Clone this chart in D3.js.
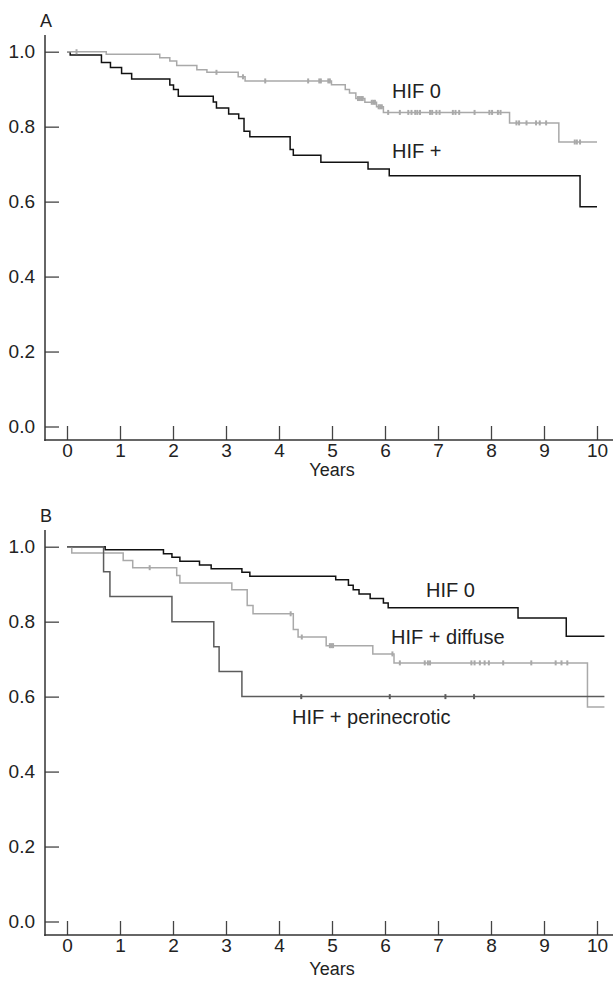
<!DOCTYPE html>
<html>
<head>
<meta charset="utf-8">
<script src="https://cdn.jsdelivr.net/npm/d3@7"></script>
<style>
  body { margin: 0; background: #fff; }
  text { font-family: "Liberation Sans", Arial, sans-serif; fill: #222; }
</style>
</head>
<body>
<div id="chart"></div>
<script>
// tick labels
var xTicks = [0, 1, 2, 3, 4, 5, 6, 7, 8, 9, 10];
var yTicks = [0, 0.2, 0.4, 0.6, 0.8, 1.0];

// panel A: HIF 0 (grey) and HIF + (black)
var aHif0Times = [0, 0.74, 1.75, 1.94, 2.07, 2.45, 2.64, 3.23, 3.36, 4.99, 5.25, 5.33, 5.45, 5.62, 5.84, 5.97, 8.35, 9.28, 10.0];
var aHif0Surv  = [1.0, 0.993, 0.984, 0.975, 0.963, 0.952, 0.945, 0.933, 0.922, 0.912, 0.899, 0.890, 0.875, 0.865, 0.853, 0.838, 0.810, 0.759, 0.759];
var aHif0Cens  = [0.18, 2.82, 3.32, 3.74, 4.55, 4.76, 4.79, 4.93, 4.96, 5.49, 5.52, 5.55, 5.58, 5.75, 5.78, 5.81,
                  5.88, 5.91, 5.94, 6.06, 6.28, 6.44, 6.50, 6.57, 6.61, 6.66, 6.85, 6.89, 6.97, 7.03, 7.28, 7.33,
                  7.40, 7.69, 7.97, 8.02, 8.13, 8.18, 8.48, 8.53, 8.67, 8.85, 8.92, 9.04, 9.58, 9.62, 9.68];
var aHifPosTimes = [0, 0.06, 0.65, 0.82, 1.03, 1.22, 1.94, 2.01, 2.10, 2.76, 2.82, 3.05, 3.24, 3.34, 3.45, 4.21, 4.27, 4.79, 5.68, 6.08, 9.68, 10.0];
var aHifPosSurv  = [1.0, 0.991, 0.971, 0.958, 0.942, 0.927, 0.911, 0.899, 0.881, 0.866, 0.850, 0.834, 0.822, 0.788, 0.773, 0.739, 0.724, 0.705, 0.687, 0.669, 0.586, 0.586];
var aHifPosCens  = [];

// panel B: HIF 0 (black), HIF + diffuse (light grey), HIF + perinecrotic (dark grey)
var bHif0Times = [0, 0.72, 1.82, 1.98, 2.13, 2.50, 2.72, 3.30, 3.45, 5.07, 5.31, 5.40, 5.51, 5.72, 5.97, 6.06, 8.51, 9.42, 10.14];
var bHif0Surv  = [1.0, 0.992, 0.981, 0.972, 0.961, 0.951, 0.941, 0.932, 0.921, 0.912, 0.897, 0.885, 0.874, 0.862, 0.850, 0.837, 0.810, 0.761, 0.761];
var bHif0Cens  = [];
var bDiffTimes = [0, 0.09, 1.06, 1.24, 2.07, 2.13, 3.11, 3.40, 3.51, 4.27, 4.36, 4.89, 5.77, 6.17, 9.82, 10.14];
var bDiffSurv  = [1.0, 0.983, 0.963, 0.944, 0.923, 0.903, 0.885, 0.843, 0.821, 0.779, 0.759, 0.736, 0.714, 0.690, 0.572, 0.572];
var bDiffCens  = [1.56, 4.22, 4.43, 4.96, 4.99, 5.02, 6.14, 6.28, 6.75, 6.81, 6.85, 7.63, 7.69, 7.79, 7.88, 7.96, 8.23, 8.76, 9.22, 9.33, 9.44];
var bPeriTimes = [0, 0.69, 0.81, 1.98, 2.77, 2.87, 3.30, 10.14];
var bPeriSurv  = [1.0, 0.933, 0.867, 0.800, 0.733, 0.667, 0.600, 0.600];
var bPeriCens  = [4.42, 6.09, 7.14, 7.68];

var width = 613, height = 985;
var font = "Liberation Sans, Arial, sans-serif";

var svg = d3.select("#chart").append("svg")
  .attr("width", width)
  .attr("height", height);

var x = d3.scaleLinear().domain([0, 10]).range([67, 597]);
var y = d3.scaleLinear().domain([0, 1]).range([426.5, 51.7]);

function stepValue(times, surv, t) {
  var i = d3.bisectRight(times, t) - 1;
  return surv[Math.max(0, i)];
}

function drawPanel(top, letter, yearsY, curves, labels) {
  var g = svg.append("g").attr("transform", "translate(0," + top + ")");

  g.append("text").attr("x", 40).attr("y", 27).style("font-size", "18px").text(letter);

  // y axis, ticks point inwards
  var yAxis = g.append("g")
    .attr("transform", "translate(45,0)")
    .call(d3.axisLeft(y).tickValues(yTicks).tickSize(-14).tickPadding(10).tickFormat(d3.format(".1f")));
  yAxis.select(".domain").remove();
  yAxis.selectAll("line").attr("stroke", "#444").attr("stroke-width", 1.3);
  yAxis.selectAll("text").style("font-size", "19px").attr("fill", "#222").style("font-family", font);

  // x axis
  var xAxis = g.append("g")
    .attr("transform", "translate(0,440)")
    .call(d3.axisBottom(x).tickValues(xTicks).tickSize(-14).tickPadding(4).tickFormat(d3.format("d")));
  xAxis.select(".domain").remove();
  xAxis.selectAll("line").attr("stroke", "#444").attr("stroke-width", 1.3);
  xAxis.selectAll("text").style("font-size", "19px").attr("fill", "#222").style("font-family", font);

  g.append("line").attr("x1", 45).attr("x2", 45).attr("y1", 35).attr("y2", 441)
    .attr("stroke", "#333").attr("stroke-width", 1.5);
  g.append("line").attr("x1", 44.3).attr("x2", width).attr("y1", 440).attr("y2", 440)
    .attr("stroke", "#333").attr("stroke-width", 1.5);

  g.append("text").attr("x", x(5)).attr("y", yearsY).attr("text-anchor", "middle")
    .style("font-size", "18px").text("Years");

  var line = d3.line()
    .x(function (d) { return x(d[0]); })
    .y(function (d) { return y(d[1]); })
    .curve(d3.curveStepAfter);

  curves.forEach(function (c) {
    var pts = c.times.map(function (t, i) { return [t, c.surv[i]]; });
    g.append("path")
      .datum(pts)
      .attr("fill", "none")
      .attr("stroke", c.color)
      .attr("stroke-width", 1.5)
      .attr("d", line);

    // censoring marks
    g.append("g").selectAll("line")
      .data(c.cens)
      .enter()
      .append("line")
      .attr("x1", function (t) { return x(t); })
      .attr("x2", function (t) { return x(t); })
      .attr("y1", function (t) { return y(stepValue(c.times, c.surv, t)) - 2.5; })
      .attr("y2", function (t) { return y(stepValue(c.times, c.surv, t)) + 2.5; })
      .attr("stroke", c.color)
      .attr("stroke-width", 2);
  });

  labels.forEach(function (l) {
    g.append("text").attr("x", l.x).attr("y", l.y).style("font-size", "20px").text(l.text);
  });
}

drawPanel(0, "A", 476, [
  { times: aHifPosTimes, surv: aHifPosSurv, cens: aHifPosCens, color: "#111" },
  { times: aHif0Times, surv: aHif0Surv, cens: aHif0Cens, color: "#a9a9a9" }
], [
  { text: "HIF 0", x: 392, y: 98 },
  { text: "HIF +", x: 392, y: 158 }
]);

drawPanel(495, "B", 480, [
  { times: bHif0Times, surv: bHif0Surv, cens: bHif0Cens, color: "#111" },
  { times: bDiffTimes, surv: bDiffSurv, cens: bDiffCens, color: "#a9a9a9" },
  { times: bPeriTimes, surv: bPeriSurv, cens: bPeriCens, color: "#5c5c5c" }
], [
  { text: "HIF 0", x: 426, y: 102 },
  { text: "HIF + diffuse", x: 391, y: 149 },
  { text: "HIF + perinecrotic", x: 292, y: 229 }
]);
</script>
</body>
</html>
